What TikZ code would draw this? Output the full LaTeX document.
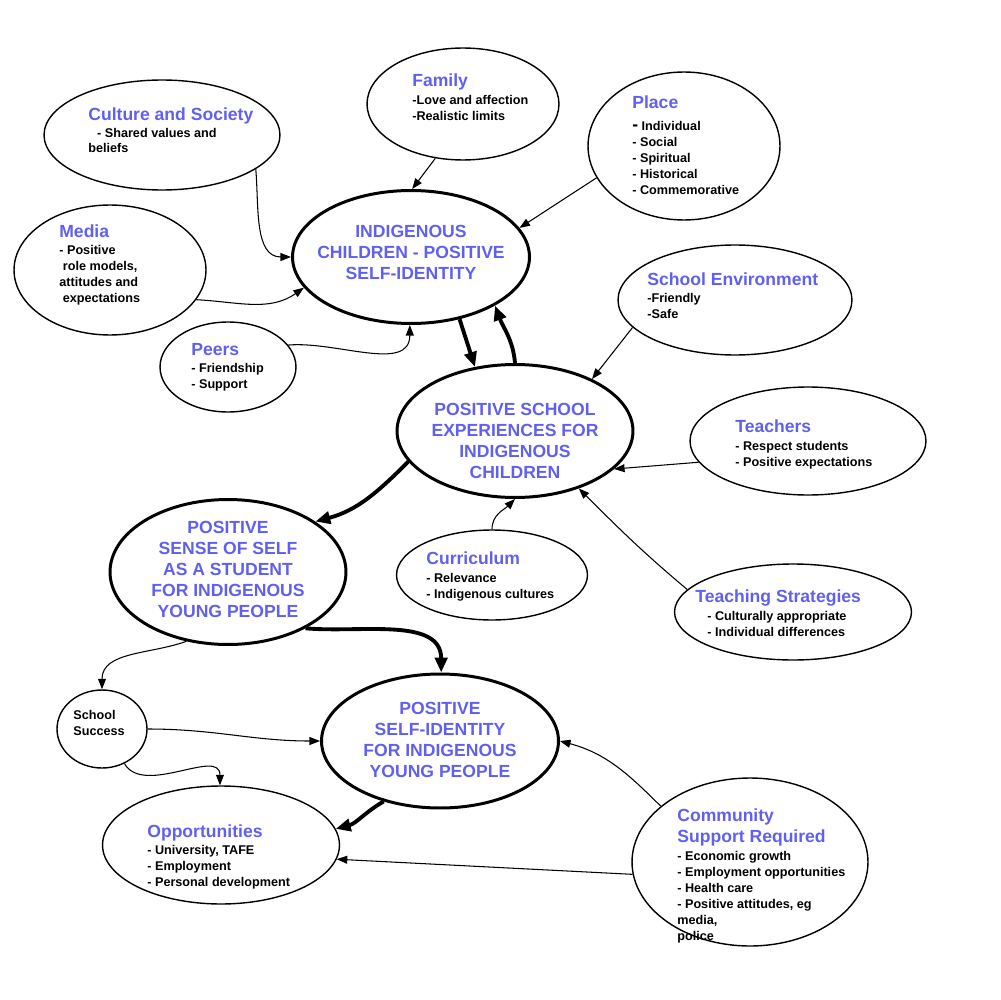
\documentclass[tikz,border=0pt]{standalone}
\usepackage{fontspec}
\setmainfont{Liberation Sans}
\usetikzlibrary{shapes.geometric,arrows.meta}
\definecolor{titleblue}{RGB}{96,96,240}
\begin{document}
\begin{tikzpicture}[x=0.02cm,y=-0.02cm,
	bubble/.style={draw,ellipse,line width=0.8pt,inner sep=0pt},
	bigbubble/.style={draw,ellipse,line width=1.7pt,inner sep=0pt},
	head/.style={anchor=base west,inner sep=0pt,text=titleblue,align=left,font=\fontsize{10}{11.9}\selectfont\bfseries},
	items/.style={anchor=base west,inner sep=0pt,align=left,font=\fontsize{7.2}{9.07}\selectfont\bfseries},
	core/.style={anchor=base,inner sep=0pt,align=center,text=titleblue,font=\fontsize{10}{11.9}\selectfont\bfseries},
	thin/.style={line width=0.6pt,-{Triangle[length=6pt,width=4.5pt]}},
	heavy/.style={line width=2.2pt,-{Triangle[length=8.5pt,width=7pt]}}]
		
		\useasboundingbox (0,0) rectangle (1000,1000);
		
		\node[bubble,minimum width=4.72cm,minimum height=2.2cm] (culture) at (162,135) {};
		\node[bubble,minimum width=3.84cm,minimum height=2.24cm] (family) at (463,104) {};
		\node[bubble,minimum width=3.84cm,minimum height=2.96cm] (place) at (684,146) {};
		\node[bubble,minimum width=3.84cm,minimum height=2.6cm] (media) at (110,270) {};
		\node[bigbubble,minimum width=4.74cm,minimum height=2.66cm] (kids) at (411,257) {};
		\node[bubble,minimum width=2.72cm,minimum height=1.8cm] (peers) at (228,367) {};
		\node[bubble,minimum width=4.68cm,minimum height=2.2cm] (env) at (735,300) {};
		\node[bigbubble,minimum width=4.72cm,minimum height=2.66cm] (school) at (515,431) {};
		\node[bubble,minimum width=4.72cm,minimum height=2.16cm] (teachers) at (808,441) {};
		\node[bigbubble,minimum width=4.72cm,minimum height=2.9cm] (student) at (228,572) {};
		\node[bubble,minimum width=3.82cm,minimum height=1.8cm] (curric) at (492,575) {};
		\node[bubble,minimum width=4.74cm,minimum height=1.92cm] (strat) at (793,612) {};
		\node[bubble,minimum width=1.8cm,minimum height=1.56cm] (success) at (102,729) {};
		\node[bigbubble,minimum width=4.74cm,minimum height=2.68cm] (youth) at (440,741) {};
		\node[bubble,minimum width=4.74cm,minimum height=2.36cm] (opps) at (221,845) {};
		\node[bubble,minimum width=4.72cm,minimum height=3.36cm] (comm) at (750,862) {};
		
		% multi-line texts sit on the baseline of their last line
		\node[head] (cultureT) at (88,121) {Culture and Society};
		\node[items] (cultureB) at (88,153) {\hspace*{5pt}- Shared values and\\beliefs};
		\node[head] (familyT) at (412,87) {Family};
		\node[items] (familyB) at (412,120.5) {-Love and affection\\-Realistic limits};
		\node[head] (placeT) at (632,109) {Place};
		\node[items] (placeB) at (632,194.5) {{\fontsize{10}{9}\selectfont -} Individual\\- Social\\- Spiritual\\- Historical\\- Commemorative};
		\node[head] (mediaT) at (59,237) {Media};
		\node[items] (mediaB) at (59,302.5) {- Positive\\\hspace*{2pt}role models,\\attitudes and\\\hspace*{2pt}expectations};
		\node[core] (kidsT) at (411,279) {INDIGENOUS\\CHILDREN - POSITIVE\\SELF-IDENTITY};
		\node[head] (peersT) at (191,355) {Peers};
		\node[items] (peersB) at (191,388.5) {- Friendship\\- Support};
		\node[head] (envT) at (647,285) {School Environment};
		\node[items] (envB) at (647,318.5) {-Friendly\\-Safe};
		\node[core] (schoolT) at (515,478) {POSITIVE SCHOOL\\EXPERIENCES FOR\\INDIGENOUS\\CHILDREN};
		\node[head] (teachersT) at (735,432) {Teachers};
		\node[items] (teachersB) at (735,466.5) {- Respect students\\- Positive expectations};
		\node[core] (studentT) at (228,617) {POSITIVE\\SENSE OF SELF\\AS A STUDENT\\FOR INDIGENOUS\\YOUNG PEOPLE};
		\node[head] (curricT) at (426,564) {Curriculum};
		\node[items] (curricB) at (426,598.5) {- Relevance\\- Indigenous cultures};
		\node[head] (stratT) at (695,602) {Teaching Strategies};
		\node[items] (stratB) at (707,636.5) {- Culturally appropriate\\- Individual differences};
		\node[items] (successT) at (73,735.5) {School\\Success};
		\node[core] (youthT) at (440,777) {POSITIVE\\SELF-IDENTITY\\FOR INDIGENOUS\\YOUNG PEOPLE};
		\node[head] (oppsT) at (147,837) {Opportunities};
		\node[items] (oppsB) at (147,886.5) {- University, TAFE\\- Employment\\- Personal development};
		\node[head] (commT) at (677,842) {Community\\Support Required};
		\node[items] (commB) at (677,940.5) {- Economic growth\\- Employment opportunities\\- Health care\\- Positive attitudes, eg\\media,\\police};
		
		\draw[thin] (culture.-20) to[out=-85,in=180] (kids.180);
		\draw[thin] (family.243) -- (kids.89);
		\draw[thin] (place.200) -- (kids.15);
		\draw[thin] (media.341) to[out=-3,in=215] (kids.196);
		\draw[thin] (peers.20) to[out=5,in=-90] (kids.269);
		
		\draw[heavy] (kids.308) -- (school.122);
		\draw[heavy] (school.90) to[out=95,in=-70] (kids.330);
		
		\draw[thin] (env.195) -- (school.34);
		\draw[thin] (teachers.191) -- (school.339);
		\draw[thin] (curric.90) to[out=90,in=225] (school.270);
		\draw[thin] (strat.168) to[out=140,in=-45] (school.318);
		
		\draw[heavy] (school.196) to[out=225,in=15] (student.30);
		\draw[heavy] (student.324) to[out=-5,in=90] (youth.89);
		\draw[thin] (student.239) to[out=200,in=90] (success.90);
		\draw[thin] (success.0) to[out=0,in=180] (youth.180);
		\draw[thin] (success.303) to[out=-60,in=90] (opps.91);
		\draw[heavy] (youth.227) to[out=210,in=15] (opps.8);
		\draw[thin] (comm.148) to[out=135,in=-15] (youth.0);
		\draw[thin] (comm.186) -- (opps.353);
		
\end{tikzpicture}
\end{document}
